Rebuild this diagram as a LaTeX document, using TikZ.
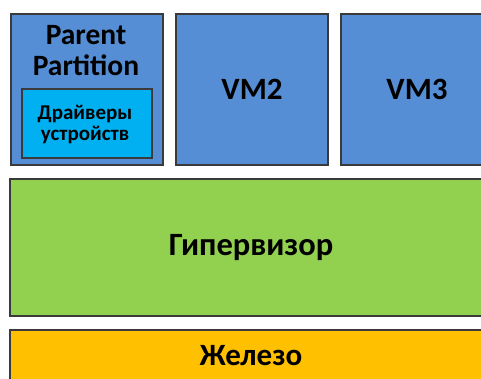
\documentclass[tikz,border=0pt]{standalone}
\usepackage{fontspec}
\setmainfont{Carlito}
\definecolor{vmblue}{HTML}{558ED5}
\definecolor{drvcyan}{HTML}{00B0F0}
\definecolor{hvgreen}{HTML}{92D050}
\definecolor{hworange}{HTML}{FFC000}
\definecolor{edge}{HTML}{3A3A3A}
\begin{document}
\begin{tikzpicture}[x=1pt,y=-1pt,
  blk/.style={draw=edge, line width=1.3pt, inner sep=0pt, text=black,
    font=\fontsize{31}{32}\selectfont\bfseries},
  big/.style={font=\fontsize{29.5}{31}\selectfont\bfseries, align=center, inner sep=0pt},
  small/.style={font=\fontsize{21}{21}\selectfont\bfseries, align=center, inner sep=0pt}]
\useasboundingbox (0,0) rectangle (481,379);
\clip (0,0) rectangle (481,379);
\fill[white] (0,0) rectangle (481,379);
\node[blk, fill=vmblue, minimum width=152pt, minimum height=151pt] (parent) at (87,89.5) {};
\node[big] (ptext) at (86,51) {Parent\\Partition};
\node[blk, fill=drvcyan, minimum width=130pt, minimum height=69pt] (drivers) at (87,123.5) {};
\node[small] (dtext) at (85,124) {Драйверы\\устройств};
\node[blk, fill=vmblue, minimum width=152pt, minimum height=151pt] (vm2) at (252,89.5) {VM2};
\node[blk, fill=vmblue, minimum width=152pt, minimum height=151pt] (vm3) at (417,89.5) {VM3};
\node[blk, fill=hvgreen, minimum width=482pt, minimum height=137pt] (hyper) at (251,247.5) {\fontsize{32.5}{33}\selectfont Гипервизор};
\node[blk, fill=hworange, minimum width=482pt, minimum height=52pt] (hw) at (251,356) {Железо};
\end{tikzpicture}
\end{document}
